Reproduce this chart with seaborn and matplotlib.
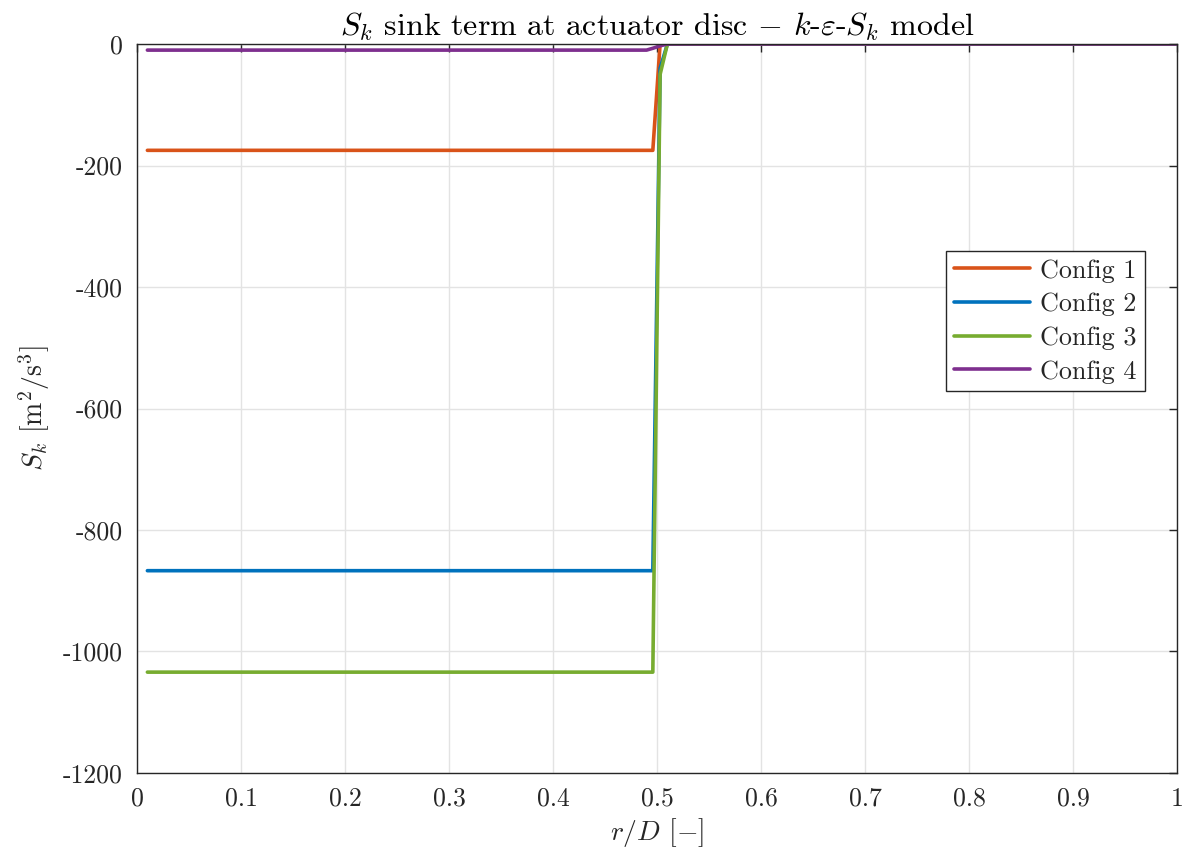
import numpy as np
import pandas as pd
import matplotlib
matplotlib.use("Agg")
import matplotlib.pyplot as plt
import seaborn as sns

# ---- data ----
r_over_D = [0.01, 0.49, 0.496, 0.503, 0.51, 1.0]
config1 = [-175, -175, -175, 0, 0, 0]
config2 = [-867, -867, -867, -40, 0, 0]
config3 = [-1034, -1034, -1034, -50, 0, 0]
config4 = [-10, -10, -7, -3, 0, 0]
series_names = ["Config 1", "Config 2", "Config 3", "Config 4"]
colors = ["#D95319", "#0072BD", "#77AC30", "#7E2F8E"]
x_ticks = [0, 0.1, 0.2, 0.3, 0.4, 0.5, 0.6, 0.7, 0.8, 0.9, 1.0]
x_tick_labels = ["0", "0.1", "0.2", "0.3", "0.4", "0.5", "0.6", "0.7", "0.8", "0.9", "1"]
y_ticks = [0, -200, -400, -600, -800, -1000, -1200]
y_tick_labels = ["0", "-200", "-400", "-600", "-800", "-1000", "-1200"]

rows = []
for name, vals in zip(series_names, [config1, config2, config3, config4]):
    for x, v in zip(r_over_D, vals):
        rows.append({"r": x, "S": v, "config": name})
df = pd.DataFrame(rows)

sns.set_style("white")
plt.rcParams["font.family"] = ["cmr10", "DejaVu Serif"]
plt.rcParams["mathtext.fontset"] = "cm"
plt.rcParams["axes.unicode_minus"] = False
plt.rcParams["axes.formatter.use_mathtext"] = True

fig = plt.figure(figsize=(11.86, 8.6), dpi=100)
ax = fig.add_axes([0.1155, 0.1012, 0.8769, 0.8476])

sns.lineplot(data=df, x="r", y="S", hue="config", hue_order=series_names,
             palette=colors, linewidth=2.6, ax=ax, sort=False, estimator=None)

ax.set_xlim(0, 1)
ax.set_ylim(-1200, 0)
ax.set_xticks(x_ticks)
ax.set_xticklabels(x_tick_labels)
ax.set_yticks(y_ticks)
ax.set_yticklabels(y_tick_labels)
ax.grid(True, color="#e3e3e3", linewidth=1.0)
ax.set_axisbelow(True)
for s in ax.spines.values():
    s.set_color("#262626")
    s.set_linewidth(1.0)
ax.tick_params(direction="in", length=6, width=1.0, colors="#262626",
               labelsize=18.5, top=True, right=True, labelcolor="#262626")
ax.tick_params(axis="y", pad=10)
ax.tick_params(axis="x", pad=10)

ax.set_xlabel(r"$r/D$ $[-]$", fontsize=20, color="#262626", labelpad=4)
ax.set_ylabel(r"$S_k$ $[\mathrm{m}^2/\mathrm{s}^3]$", fontsize=20, color="#262626", labelpad=8)
ax.set_title(r"$S_k$ sink term at actuator disc $-$ $k$-$\varepsilon$-$S_k$ model",
             fontsize=23, color="black", pad=6)

leg = ax.legend(loc="upper right", bbox_to_anchor=(0.969, 0.716), fontsize=18.8,
                frameon=True, fancybox=False, framealpha=1, edgecolor="#262626",
                handlelength=2.9, borderpad=0.3, labelspacing=0.38, handletextpad=0.4,
                borderaxespad=0)
leg.get_frame().set_linewidth(1.0)
for line in leg.get_lines():
    line.set_linewidth(2.6)

fig.savefig("out.png", dpi=100, facecolor="white")
